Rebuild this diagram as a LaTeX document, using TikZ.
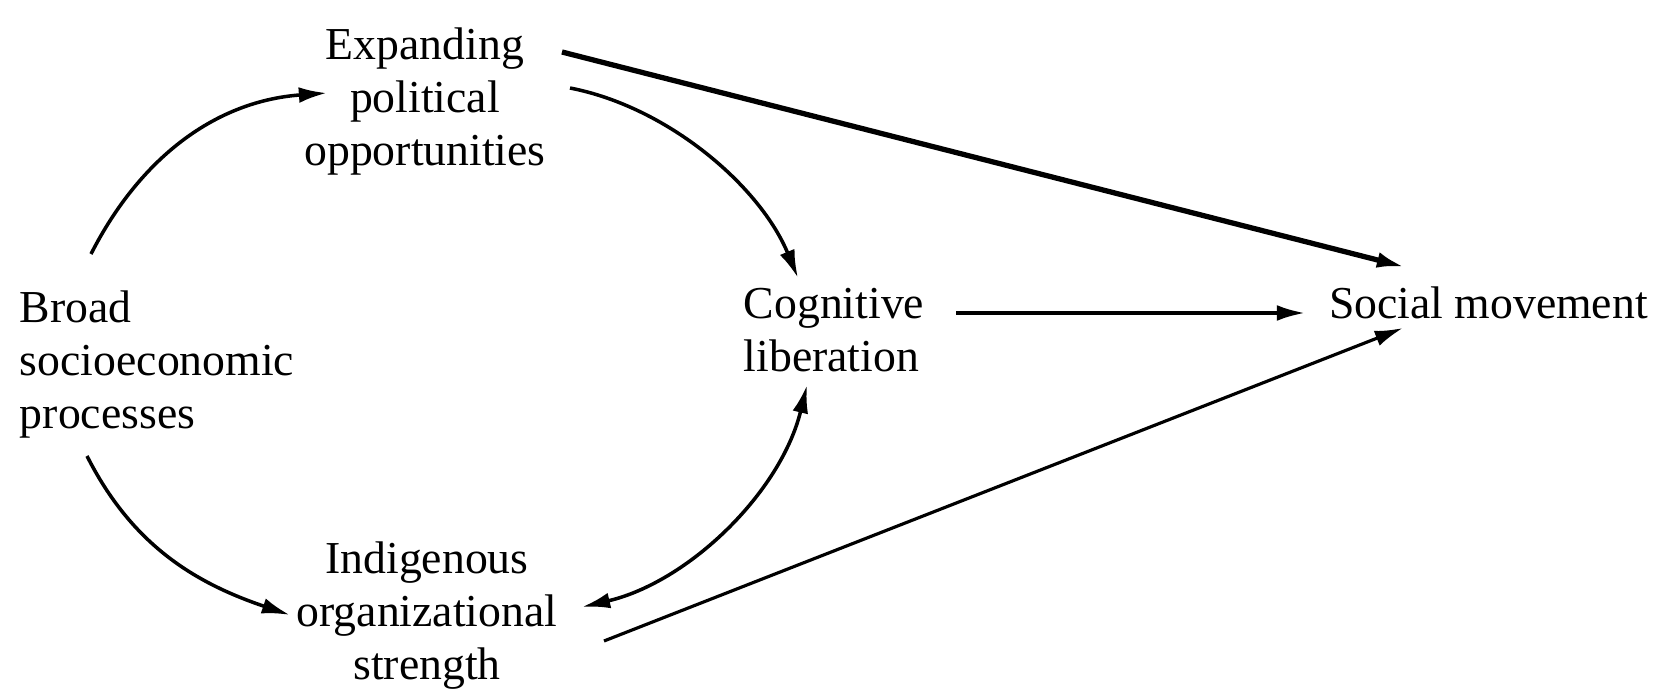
\documentclass[tikz,border=0pt]{standalone}
\usepackage{fontspec}
\setmainfont{Liberation Serif}
\usetikzlibrary{arrows.meta}

\begin{document}
\begin{tikzpicture}[x=0.01cm, y=-0.01cm,
		concept/.style={inner sep=0pt, outer sep=0pt, font=\fontsize{13}{15}\selectfont},
		link/.style={line width=1pt, -{Latex[length=8pt, width=4.5pt]}},
	]
	
		\useasboundingbox (0,0) rectangle (1653,691);
		
		\node[concept, anchor=north, align=center] (expand) at (425,28) {Expanding\\ political\\ opportunities};
		\node[concept, anchor=north west, align=left] (broad) at (20,291) {Broad\\ socioeconomic\\ processes};
		\node[concept, anchor=north, align=left] (cognit) at (834,288) {Cognitive\\ liberation};
		\node[concept, anchor=base west] (social) at (1329,319) {Social movement};
		\node[concept, anchor=north, align=center] (indig) at (427,542) {Indigenous\\ organizational\\ strength};
		
		\draw[link] ([shift={(71,-37)}]broad.north west) .. controls +(50,-98) and +(-110,8) .. ([shift={(-98,65)}]expand.north);
		\draw[link] ([shift={(145,60)}]expand.north) .. controls +(98,19) and +(-38,-92) .. ([shift={(-36,-10)}]cognit.north);
		\draw[link, line width=1.5pt] ([shift={(137,24)}]expand.north) -- ([shift={(76,-52)}]social.base west);
		
		\draw[link] ([shift={(122,25)}]cognit.north) -- ([shift={(-24,-6)}]social.base west);
		
		\draw[link] ([shift={(67,165)}]broad.north west) .. controls +(45,89) and +(-95,-32) .. ([shift={(-137,73)}]indig.north);
		\draw[link, {Latex[length=8pt, width=4.5pt]}-{Latex[length=8pt, width=4.5pt]}] ([shift={(155,65)}]indig.north) .. controls +(107,-25) and +(-26,107) .. ([shift={(-27,97)}]cognit.north);
		\draw[link, line width=0.9pt] ([shift={(177,99)}]indig.north) -- ([shift={(74,9)}]social.base west);
	
	\end{tikzpicture}
\end{document}
